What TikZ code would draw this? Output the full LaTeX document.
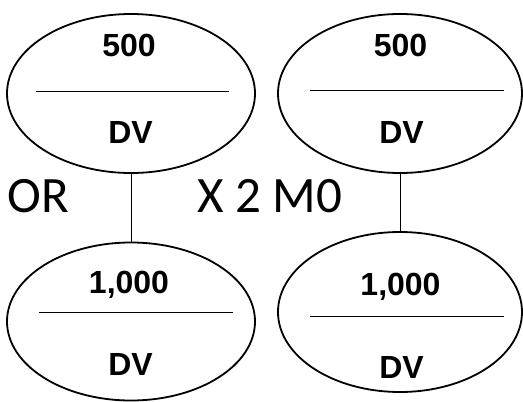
\documentclass[tikz,border=0pt]{standalone}
\usepackage{fontspec}
\setmainfont{Carlito}
\newfontfamily\arialfont{Liberation Sans}
\usetikzlibrary{shapes.geometric}

\begin{document}
\begin{tikzpicture}[x=1pt,y=-1pt,
    oval/.style={draw,ellipse,line width=1.8pt,inner sep=0pt,minimum width=248pt,minimum height=159pt},
    num/.style={font=\arialfont\bfseries\fontsize{32}{32}\selectfont,inner sep=0pt,anchor=base},
    big/.style={font=\fontsize{51}{51}\selectfont,inner sep=0pt,anchor=base}]
  \useasboundingbox (0,0) rectangle (523,402);
  \node[oval] (tl) at (131,93.5) {};
  \node[oval,minimum width=244pt] (tr) at (400,93.5) {};
  \node[oval,minimum height=158pt] (bl) at (131,321.5) {};
  \node[oval,minimum width=244pt,minimum height=160pt] (br) at (400,312) {};
  \draw[line width=1pt] (36,91) -- (229,91);
  \draw[line width=1pt] (310,90.5) -- (504,90.5);
  \draw[line width=1pt] (39,312) -- (233,312);
  \draw[line width=1pt] (310,316.5) -- (504,316.5);
  \node[num] (tltop) at (129,56.5) {500};
  \node[num] (tlbot) at (130.5,143) {DV};
  \node[num] (trtop) at (400.5,56.5) {500};
  \node[num] (trbot) at (401.5,143) {DV};
  \node[num] (bltop) at (129,293) {1,000};
  \node[num] (blbot) at (130.5,375) {DV};
  \node[num] (brtop) at (400.5,295) {1,000};
  \node[num] (brbot) at (401.5,378) {DV};
  \draw[line width=1pt] (tl.south) -- (bl.north);
  \draw[line width=1pt] (tr.south) -- (br.north);
  \node[big] (or) at (38,212) {OR};
  \node[big] (times) at (270,212) {X 2 M0};
\end{tikzpicture}
\end{document}
